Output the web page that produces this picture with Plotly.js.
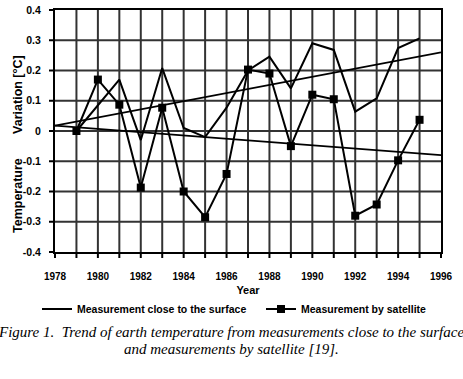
<!DOCTYPE html>
<html>
<head>
<meta charset="utf-8">
<script src="https://cdn.plot.ly/plotly-3.0.1.min.js"></script>
<style>
html,body{margin:0;padding:0;background:#fff;}
#chart{width:463px;height:379px;}
#chart .crisp{shape-rendering:auto !important;}
</style>
</head>
<body>
<div id="chart"></div>
<script>
var years = [1979,1980,1981,1982,1983,1984,1985,1986,1987,1988,1989,1990,1991,1992,1993,1994,1995];
var surface = [0.0,0.085,0.17,-0.03,0.208,0.01,-0.02,0.077,0.2,0.246,0.141,0.29,0.268,0.064,0.108,0.274,0.306];
var satellite = [0.0,0.17,0.087,-0.187,0.077,-0.2,-0.285,-0.142,0.203,0.19,-0.05,0.12,0.105,-0.28,-0.243,-0.097,0.037];
var trendYears = [1978,1996];
var surfaceTrend = [0.018,0.26];
var satelliteTrend = [0.018,-0.08];
var xTickVals = [1978,1979,1980,1981,1982,1983,1984,1985,1986,1987,1988,1989,1990,1991,1992,1993,1994,1995,1996];
var xTickText = ['1978','','1980','','1982','','1984','','1986','','1988','','1990','','1992','','1994','','1996'];
var yTickVals = [-0.4,-0.3,-0.2,-0.1,0,0.1,0.2,0.3,0.4];
var yTickText = ['-0.4','-0.3','-0.2','-0.1','0','0.1','0.2','0.3','0.4'];

var sans = 'Liberation Sans, Arial, sans-serif';
var serif = 'Liberation Serif, Times New Roman, serif';

var traces = [
  {x: trendYears, y: surfaceTrend, mode: 'lines', line: {color: '#000', width: 1.8}, showlegend: false, hoverinfo: 'skip'},
  {x: trendYears, y: satelliteTrend, mode: 'lines', line: {color: '#000', width: 1.8}, showlegend: false, hoverinfo: 'skip'},
  {x: years, y: surface, mode: 'lines', name: 'Measurement close to the surface', line: {color: '#000', width: 2}, legend: 'legend'},
  {x: years, y: satellite, mode: 'lines+markers', name: 'Measurement by satellite', line: {color: '#000', width: 2}, marker: {symbol: 'square', size: 8, color: '#000'}, legend: 'legend2'}
];

var legFont = {family: sans, size: 10.5, weight: 'bold', color: '#000'};
var plotW = 386, plotH = 242, plotL = 55, plotB = 252;
function px2x(p) { return (p - plotL) / plotW; }
function px2y(p) { return (plotB - p) / plotH; }

var layout = {
  width: 463, height: 379,
  margin: {l: 55, r: 22, t: 10, b: 127},
  paper_bgcolor: '#ffffff', plot_bgcolor: '#ffffff',
  font: {family: sans, color: '#000'},
  xaxis: {
    range: [1978, 1996], tickvals: xTickVals, ticktext: xTickText,
    showgrid: true, gridcolor: '#333333', gridwidth: 2,
    showline: true, linecolor: '#000000', linewidth: 2, mirror: true,
    ticks: 'outside', ticklen: 4, tickcolor: '#000000', tickwidth: 2,
    ticklabelstandoff: 10,
    tickfont: {family: sans, size: 10, weight: 'bold', color: '#000'},
    zeroline: false,
    title: {text: 'Year', font: {family: sans, size: 11, weight: 'bold', color: '#000'}, standoff: 5}
  },
  yaxis: {
    range: [-0.4, 0.4], tickvals: yTickVals, ticktext: yTickText,
    showgrid: true, gridcolor: '#333333', gridwidth: 2,
    showline: true, linecolor: '#000000', linewidth: 2, mirror: true,
    ticks: 'outside', ticklen: 4, tickcolor: '#000000', tickwidth: 2,
    ticklabelstandoff: 6,
    tickfont: {family: sans, size: 10.5, weight: 'bold', color: '#000'},
    zeroline: false
  },
  showlegend: true,
  legend: {
    orientation: 'h', x: px2x(37), xanchor: 'left', y: px2y(309), yanchor: 'middle',
    font: legFont, itemwidth: 30, bgcolor: 'rgba(0,0,0,0)'
  },
  legend2: {
    orientation: 'h', x: px2x(261), xanchor: 'left', y: px2y(309), yanchor: 'middle',
    font: legFont, itemwidth: 30, bgcolor: 'rgba(0,0,0,0)'
  },
  annotations: [
    {text: 'Temperature\u00a0\u00a0\u00a0\u00a0\u00a0\u00a0\u00a0Variation [°C]', textangle: -90, xref: 'paper', yref: 'paper',
     x: px2x(18), y: px2y(144), xanchor: 'center', yanchor: 'middle', showarrow: false,
     font: {family: sans, size: 12.5, weight: 'bold', color: '#000'}},
    {text: 'Figure 1.\u00a0 Trend of earth temperature from measurements close to the surface', xref: 'paper', yref: 'paper',
     x: px2x(231), y: px2y(332), xanchor: 'center', yanchor: 'middle', showarrow: false,
     font: {family: serif, size: 15, style: 'italic', color: '#000'}},
    {text: 'and measurements by satellite [19].', xref: 'paper', yref: 'paper',
     x: px2x(231), y: px2y(349), xanchor: 'center', yanchor: 'middle', showarrow: false,
     font: {family: serif, size: 15, style: 'italic', color: '#000'}}
  ]
};

Plotly.newPlot('chart', traces, layout, {displayModeBar: false, staticPlot: true});
</script>
</body>
</html>
